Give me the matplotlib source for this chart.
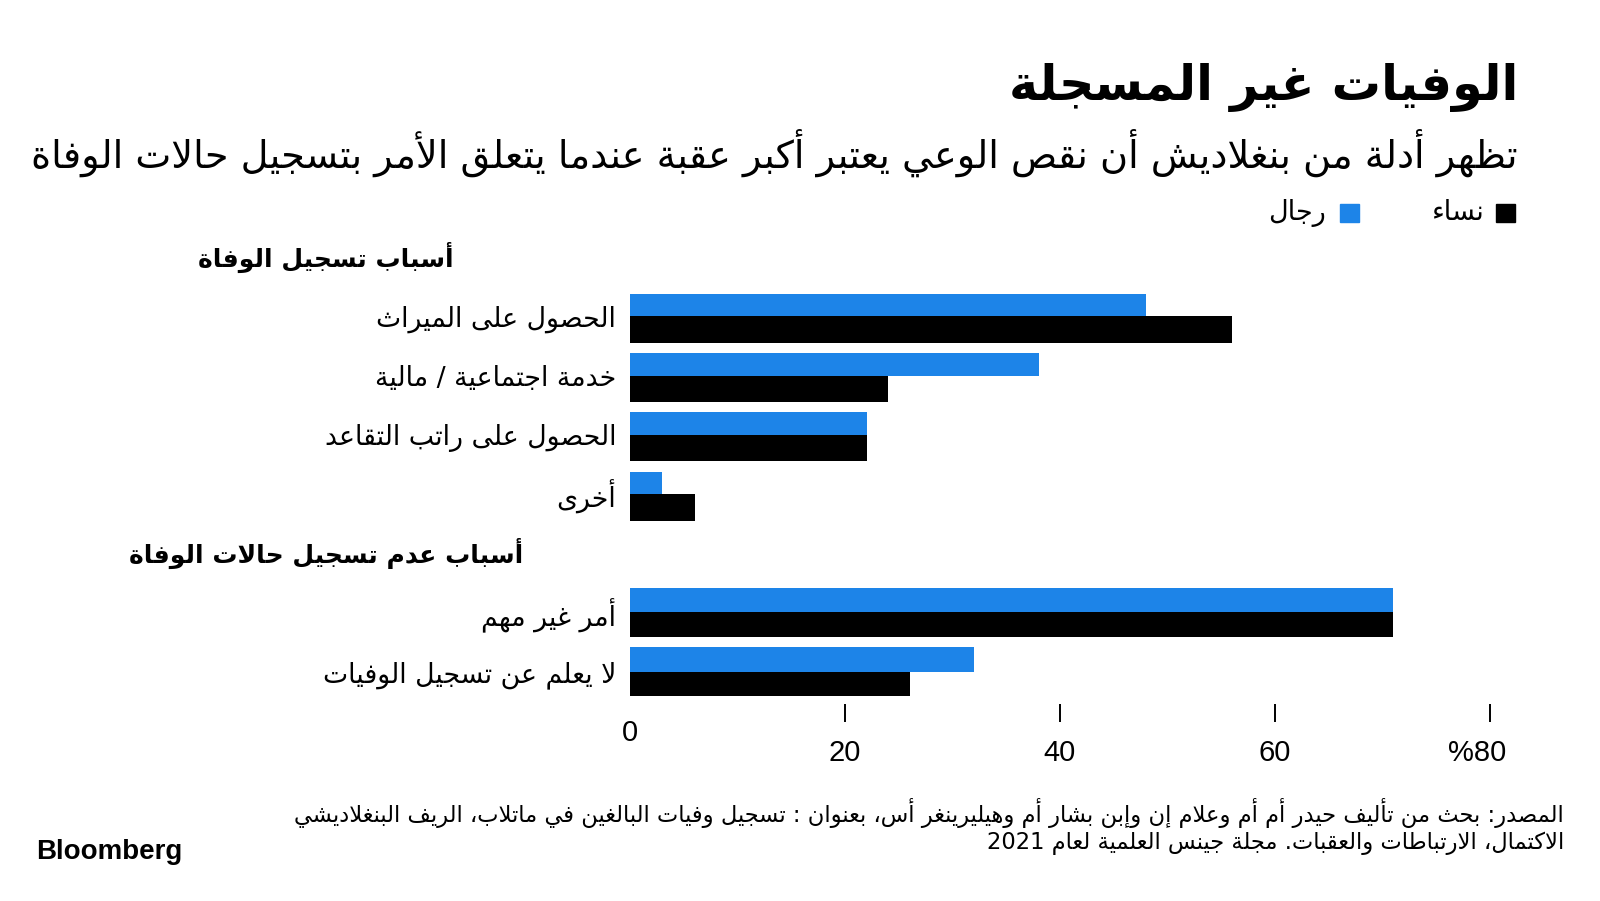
import matplotlib
matplotlib.use("Agg")
import matplotlib.pyplot as plt
import matplotlib.transforms as mtransforms
from matplotlib.patches import Rectangle

# ---- data ----
title = "الوفيات غير المسجلة"
subtitle = "تظهر أدلة من بنغلاديش أن نقص الوعي يعتبر أكبر عقبة عندما يتعلق الأمر بتسجيل حالات الوفاة"
sections = ["أسباب تسجيل الوفاة", "أسباب عدم تسجيل حالات الوفاة"]
categories = [
    "الحصول على الميراث",
    "خدمة اجتماعية / مالية",
    "الحصول على راتب التقاعد",
    "أخرى",
    "أمر غير مهم",
    "لا يعلم عن تسجيل الوفيات",
]
category_section = [0, 0, 0, 0, 1, 1]
men = [48, 38, 22, 3, 71, 32]
women = [56, 24, 22, 6, 71, 26]
xticks = [0, 20, 40, 60, 80]
xtick_labels = ["0", "20", "40", "60", "%80"]
legend_labels = ["نساء", "رجال"]
source_lines = [
    "المصدر: بحث من تأليف حيدر أم أم وعلام إن وإبن بشار أم وهيليرينغر أس، بعنوان : تسجيل وفيات البالغين في ماتلاب، الريف البنغلاديشي",
    "الاكتمال، الارتباطات والعقبات. مجلة جينس العلمية لعام 2021",
]

BLUE = "#1d84e8"
BLACK = "#000000"
AR_FONT = "DejaVu Sans"
NUM_FONT = ["Liberation Sans Narrow", "Liberation Sans", "DejaVu Sans"]

# ---- minimal arabic shaping (matplotlib has no complex text layout) ----
_DUAL = {"ئ": 0xFE89, "ب": 0xFE8F, "ت": 0xFE95, "ث": 0xFE99, "ج": 0xFE9D, "ح": 0xFEA1,
         "خ": 0xFEA5, "س": 0xFEB1, "ش": 0xFEB5, "ص": 0xFEB9, "ض": 0xFEBD, "ط": 0xFEC1,
         "ظ": 0xFEC5, "ع": 0xFEC9, "غ": 0xFECD, "ف": 0xFED1, "ق": 0xFED5, "ك": 0xFED9,
         "ل": 0xFEDD, "م": 0xFEE1, "ن": 0xFEE5, "ه": 0xFEE9, "ي": 0xFEF1}
_RIGHT = {"آ": 0xFE81, "أ": 0xFE83, "ؤ": 0xFE85, "إ": 0xFE87, "ا": 0xFE8D, "ة": 0xFE93,
          "د": 0xFEA9, "ذ": 0xFEAB, "ر": 0xFEAD, "ز": 0xFEAF, "و": 0xFEED, "ى": 0xFEEF,
          "\uFEF5": 0xFEF5, "\uFEF7": 0xFEF7, "\uFEF9": 0xFEF9, "\uFEFB": 0xFEFB}
_LAM_ALEF = {"آ": "\uFEF5", "أ": "\uFEF7", "إ": "\uFEF9", "ا": "\uFEFB"}


def shape(text):
    chars = []
    i = 0
    while i < len(text):
        c = text[i]
        if c == "ل" and i + 1 < len(text) and text[i + 1] in _LAM_ALEF:
            chars.append(_LAM_ALEF[text[i + 1]])
            i += 2
        else:
            chars.append(c)
            i += 1
    out = []
    for k, c in enumerate(chars):
        prev = chars[k - 1] if k > 0 else ""
        nxt = chars[k + 1] if k + 1 < len(chars) else ""
        joins_prev = prev in _DUAL and (c in _DUAL or c in _RIGHT)
        if c in _DUAL:
            joins_next = nxt in _DUAL or nxt in _RIGHT
            form = (3 if joins_next else 1) if joins_prev else (2 if joins_next else 0)
            out.append(chr(_DUAL[c] + form))
        elif c in _RIGHT:
            out.append(chr(_RIGHT[c] + (1 if joins_prev else 0)))
        else:
            out.append(c)
    # visual order: reverse, but keep latin/digit runs left-to-right
    runs = []
    for c in out:
        ltr = c.isascii() and c.isalnum()
        if ltr and runs and runs[-1][0].isascii() and runs[-1][0].isalnum():
            runs[-1] += c
        else:
            runs.append(c)
    return "".join(reversed(runs))


W, H = 1600, 901


def fx(px):
    return px / W


def fy(py):
    return 1 - py / H


fig = plt.figure(figsize=(16, 9.01), dpi=100)
fig.patch.set_facecolor("white")

# slot layout: section header, 4 rows, section header, 2 rows
row_pos = []
header_pos = []
slot = 0
for s in range(len(sections)):
    header_pos.append(slot)
    slot += 1
    for sec in category_section:
        if sec == s:
            row_pos.append(slot)
            slot += 1

slot0_px, slot_step = 257.2, 59.2
ax_top, ax_bot = 226, 700
ax = fig.add_axes([fx(630), fy(ax_bot), fx(1490) - fx(630), (ax_bot - ax_top) / H])
ax.set_xlim(0, 80)
ax.set_ylim((ax_bot - slot0_px) / slot_step, (ax_top - slot0_px) / slot_step)

blue_h = [0.38 if s == 0 else 0.42 for s in category_section]
black_h = [0.45 if s == 0 else 0.42 for s in category_section]
ax.barh([p - h / 2 for p, h in zip(row_pos, blue_h)], men, height=blue_h,
        color=BLUE, linewidth=0)
ax.barh([p + h / 2 for p, h in zip(row_pos, black_h)], women, height=black_h,
        color=BLACK, linewidth=0)

for sp in ax.spines.values():
    sp.set_visible(False)
ax.set_xticks([])
ax.set_yticks(row_pos, [shape(c) for c in categories], family=AR_FONT, fontsize=19.3)
ax.tick_params(axis="y", length=0, pad=10)

fig_y = mtransforms.blended_transform_factory(fig.transFigure, ax.transData)
for hp, sec in zip(header_pos, sections):
    ax.text(fx(326), hp, shape(sec), transform=fig_y, ha="center", va="center",
            family=AR_FONT, fontweight="bold", fontsize=18)

# x ticks: small marks below the bars, zero label raised and without a mark
x_fig = mtransforms.blended_transform_factory(ax.transData, fig.transFigure)
for v, lab in zip(xticks, xtick_labels):
    if v == 0:
        ax.text(v, fy(733), lab, transform=x_fig, ha="center", va="center",
                family=NUM_FONT, fontsize=21)
        continue
    ax.plot([v, v], [fy(704), fy(722)], transform=x_fig, color=BLACK, lw=1.4,
            clip_on=False, solid_capstyle="butt")
    if lab.startswith("%"):
        tr = mtransforms.offset_copy(x_fig, fig=fig, x=12, units="points")
        ax.text(v, fy(753), lab, transform=tr, ha="right", va="center",
                family=NUM_FONT, fontsize=21)
    else:
        ax.text(v, fy(753), lab, transform=x_fig, ha="center", va="center",
                family=NUM_FONT, fontsize=21)

# title block
fig.text(fx(1518), fy(88), shape(title), ha="right", va="center",
         family=AR_FONT, fontweight="bold", fontsize=35.5)
fig.text(fx(1518), fy(153), shape(subtitle), ha="right", va="center",
         family=AR_FONT, fontsize=27.5)

# legend
leg_items = [(legend_labels[0], BLACK, 1496, 1485), (legend_labels[1], BLUE, 1340, 1326)]
for lab, col, sq_x, tx in leg_items:
    fig.patches.append(Rectangle((fx(sq_x), fy(222)), fx(19), 18 / H, color=col,
                                 transform=fig.transFigure, figure=fig))
    fig.text(fx(tx), fy(213), shape(lab), ha="right", va="center",
             family=AR_FONT, fontsize=19.5)

# source + logo
for k, line in enumerate(source_lines):
    fig.text(fx(1564), fy(813 + 30 * k), shape(line), ha="right", va="center",
             family=AR_FONT, fontsize=16.3)
fig.text(fx(36), fy(852), "Bloomberg", ha="left", va="center",
         family=["Liberation Sans", "DejaVu Sans"], fontweight="bold", fontsize=20)

fig.savefig("out.png", dpi=100, facecolor="white")
